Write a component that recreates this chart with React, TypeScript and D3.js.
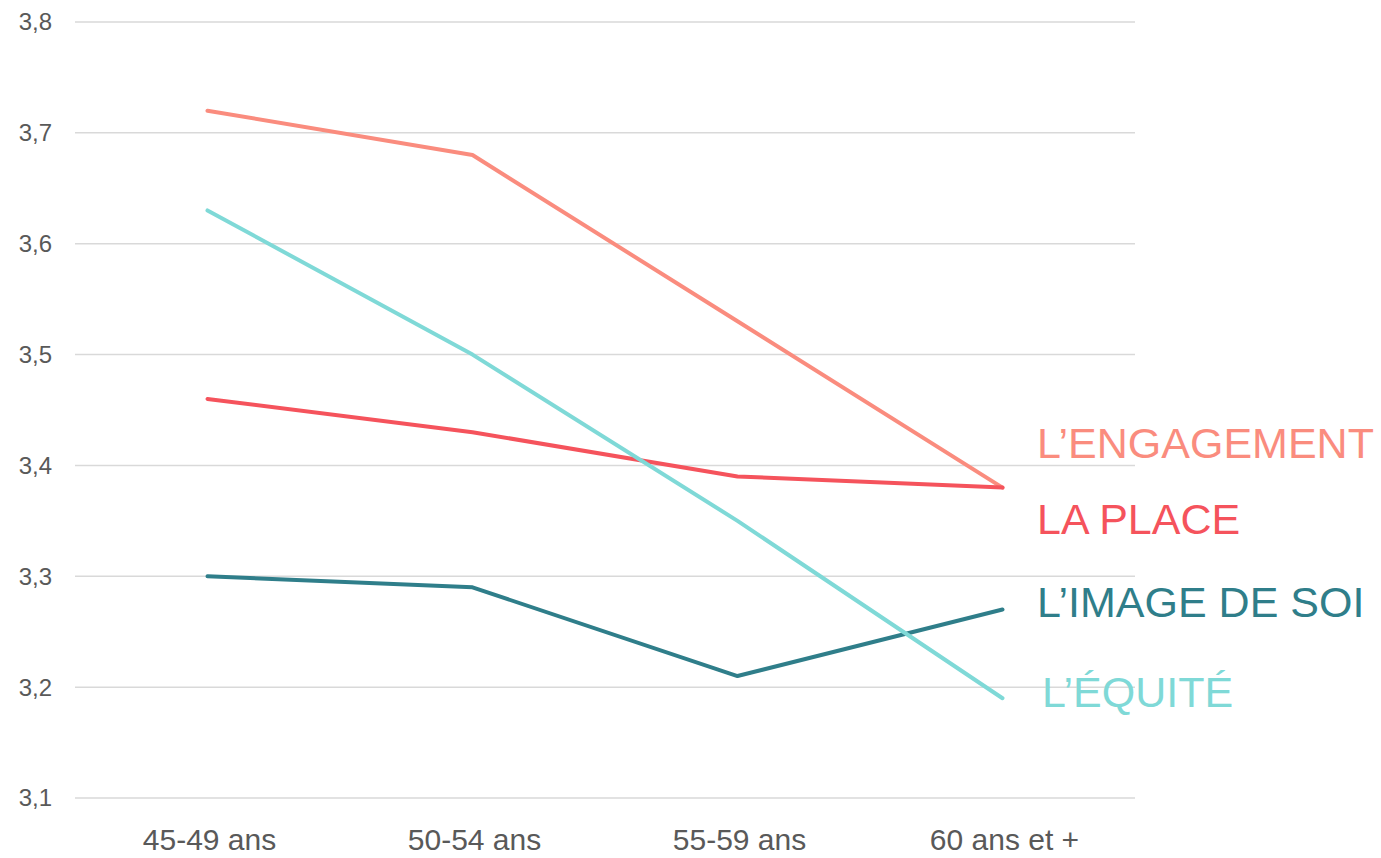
import React from "react";
import * as d3 from "d3";

const categories = ["45-49 ans", "50-54 ans", "55-59 ans", "60 ans et +"];
const yTicks = [3.1, 3.2, 3.3, 3.4, 3.5, 3.6, 3.7, 3.8];
const engagement = [3.72, 3.68, 3.53, 3.38];
const place = [3.46, 3.43, 3.39, 3.38];
const imageSoi = [3.3, 3.29, 3.21, 3.27];
const equite = [3.63, 3.5, 3.35, 3.19];

const seriesNames = ["L’ENGAGEMENT", "LA PLACE", "L’IMAGE DE SOI", "L’ÉQUITÉ"];
const seriesValues = [engagement, place, imageSoi, equite];
const seriesColors = ["#FA8C7E", "#F5535C", "#2F7E8A", "#7FD9D7"];
const labelY = [3.407, 3.338, 3.263, 3.182];

export default function App() {
  const width = 1381;
  const height = 858;
  const x = d3.scaleBand<string>().domain(categories).range([75, 1135]);
  const y = d3.scaleLinear().domain([3.1, 3.8]).range([798, 22]);
  const cx = (c: string) => (x(c) ?? 0) + x.bandwidth() / 2;
  const line = d3
    .line<number>()
    .x((_, i) => cx(categories[i]))
    .y((d) => y(d));

  return (
    <svg
      width={width}
      height={height}
      style={{ position: "absolute", left: 0, top: 0, background: "#fff" }}
    >
      {yTicks.map((t) => (
        <g key={t}>
          <line x1={75} x2={1135} y1={y(t)} y2={y(t)} stroke="#D9D9D9" strokeWidth={1.5} />
          <text
            x={52}
            y={y(t)}
            dy="0.35em"
            textAnchor="end"
            fontFamily="'Liberation Sans', Arial, sans-serif"
            fontSize={24}
            fill="#595959"
          >
            {t.toFixed(1).replace(".", ",")}
          </text>
        </g>
      ))}
      {categories.map((c) => (
        <text
          key={c}
          x={cx(c) + 2}
          y={850}
          textAnchor="middle"
          fontFamily="'Liberation Sans', Arial, sans-serif"
          fontSize={30}
          fill="#595959"
        >
          {c}
        </text>
      ))}
      {seriesValues.map((vals, i) => (
        <path
          key={seriesNames[i]}
          d={line(vals) ?? ""}
          fill="none"
          stroke={seriesColors[i]}
          strokeWidth={4}
          strokeLinejoin="round"
          strokeLinecap="round"
        />
      ))}
      {seriesNames.map((n, i) => (
        <text
          key={n}
          x={i === 3 ? 1042 : 1037}
          y={y(labelY[i])}
          fontFamily="'Liberation Sans', Arial, sans-serif"
          fontSize={43}
          fill={seriesColors[i]}
        >
          {n}
        </text>
      ))}
    </svg>
  );
}
